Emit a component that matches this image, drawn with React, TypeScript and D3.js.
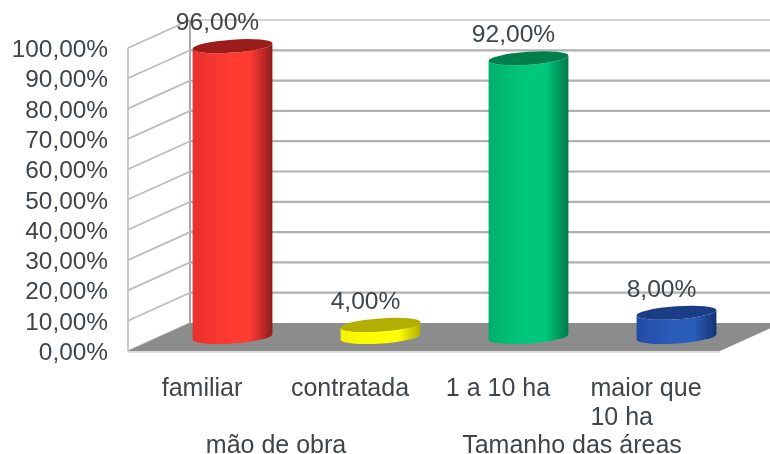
import * as d3 from "d3";
import React from "react";

const categories = ["familiar", "contratada", "1 a 10 ha", "maior que|10 ha"];
const values = [96, 4, 92, 8];
const valueLabels = ["96,00%", "4,00%", "92,00%", "8,00%"];
const groups = ["mão de obra", "Tamanho das áreas"];
const yTicks = [0, 10, 20, 30, 40, 50, 60, 70, 80, 90, 100];
const barColors = [
  { id: "red", edge: "#e8302c", mid: "#ff3a33", dark: "#8e1c1a", top: "#9c1d1a" },
  { id: "yellow", edge: "#f4f400", mid: "#ffff00", dark: "#b5b000", top: "#b4ae00" },
  { id: "green", edge: "#00b06c", mid: "#00c77b", dark: "#00774a", top: "#007f4e" },
  { id: "blue", edge: "#234ca6", mid: "#2c5cba", dark: "#163272", top: "#1a3d85" },
];

const W = 770;
const H = 454;
const depthX = 62;
const depthY = 28;
const plot = { left: 128, right: 720, top: 48, bottom: 351 };
const textColor = "#3f4448";
const labelFont = "25px Liberation Sans";

const fmtTick = (d: number) => d.toFixed(2).replace(".", ",") + "%";

// wrapped labels are left aligned inside their centred block
const ctx = document.createElement("canvas").getContext("2d")!;
const blockWidth = (lines: string[]) => {
  ctx.font = labelFont;
  return d3.max(lines, (l) => ctx.measureText(l).width)!;
};

const App: React.FC = () => {
  const x = d3.scaleBand<number>().domain(d3.range(categories.length)).range([plot.left, plot.right]);
  const y = d3.scaleLinear().domain([0, 100]).range([plot.bottom, plot.top]);

  const rx = 40;
  const ry = 6.5;
  const rot = -4;
  const dx = rx * Math.cos((rot * Math.PI) / 180);
  const dy = rx * Math.sin((rot * Math.PI) / 180);

  const backX = plot.left + depthX;
  const floor = d3.path();
  floor.moveTo(plot.left, plot.bottom);
  floor.lineTo(plot.right, plot.bottom);
  floor.lineTo(plot.right + depthX, plot.bottom - depthY);
  floor.lineTo(backX, plot.bottom - depthY);
  floor.closePath();

  return (
    <svg
      width={W}
      height={H}
      style={{ position: "absolute", left: 0, top: 0, background: "#fff" }}
      fontFamily="Liberation Sans, Arial, sans-serif"
    >
      <defs>
        <filter id="soft" x="-5%" y="-5%" width="110%" height="110%">
          <feGaussianBlur stdDeviation="0.7" />
        </filter>
        {barColors.map((c) => (
          <linearGradient key={c.id} id={`grad-${c.id}`} x1="0" x2="1" y1="0" y2="0">
            <stop offset="0" stopColor={c.edge} />
            <stop offset="0.45" stopColor={c.mid} />
            <stop offset="0.72" stopColor={c.mid} />
            <stop offset="1" stopColor={c.dark} />
          </linearGradient>
        ))}
      </defs>
      <g filter="url(#soft)">
        {/* walls */}
        <line x1={backX} x2={backX} y1={y(100) - depthY} y2={y(0) - depthY} stroke="#a8a8a8" strokeWidth={2} />
        <line x1={plot.left} x2={plot.left} y1={y(100)} y2={y(0)} stroke="#c4c4c4" strokeWidth={1.8} />
        {yTicks.map((t) => (
          <g key={t}>
            <line
              x1={plot.left}
              x2={backX}
              y1={y(t)}
              y2={y(t) - depthY}
              stroke="#bcbcbc"
              strokeWidth={1.8}
            />
            {t > 0 && (
              <line
                x1={backX}
                x2={W}
                y1={y(t) - depthY}
                y2={y(t) - depthY}
                stroke={t === 100 ? "#c4c4c4" : "#b0b0b0"}
                strokeWidth={t === 100 ? 1.5 : 2.2}
              />
            )}
            <text x={108} y={y(t) + 9} textAnchor="end" fontSize={24.4} fill={textColor}>
              {fmtTick(t)}
            </text>
          </g>
        ))}
        <path d={floor.toString()} fill="#8c8c8c" />
        <line x1={plot.left} x2={plot.right} y1={plot.bottom + 1} y2={plot.bottom + 1} stroke="#d0d0d0" strokeWidth={1.5} />

        {/* cylinders */}
        {values.map((v, i) => {
          const c = barColors[i];
          const cx = x(i)! + x.bandwidth() / 2 + depthX / 2 - 0.5;
          const yBase = y(0) - depthY / 2;
          const yTop = y(v) - depthY / 2;
          const body =
            `M${cx - dx},${yTop - dy}L${cx - dx},${yBase - dy}` +
            `A${rx},${ry} ${rot} 0 0 ${cx + dx},${yBase + dy}L${cx + dx},${yTop + dy}` +
            `A${rx},${ry} ${rot} 0 1 ${cx - dx},${yTop - dy}Z`;
          return (
            <g key={c.id}>
              <path d={body} fill={`url(#grad-${c.id})`} />
              <ellipse
                cx={cx}
                cy={yTop}
                rx={rx}
                ry={ry}
                transform={`rotate(${rot} ${cx} ${yTop})`}
                fill={c.top}
              />
              <text x={cx - 15} y={yTop - 16} textAnchor="middle" fontSize={24.6} fill={textColor}>
                {valueLabels[i]}
              </text>
            </g>
          );
        })}

        {/* category labels */}
        {categories.map((cat, i) => {
          const lines = cat.split("|");
          const left = x(i)! + x.bandwidth() / 2 - blockWidth(lines) / 2;
          return (
            <text key={cat} fontSize={25} fill={textColor}>
              {lines.map((line, j) => (
                <tspan key={line} x={left} y={396 + j * 29}>
                  {line}
                </tspan>
              ))}
            </text>
          );
        })}
        {groups.map((g, i) => (
          <text
            key={g}
            x={x(i * 2)! + x.bandwidth()}
            y={453}
            textAnchor="middle"
            fontSize={25}
            fill={textColor}
          >
            {g}
          </text>
        ))}
      </g>
    </svg>
  );
};

export default App;
